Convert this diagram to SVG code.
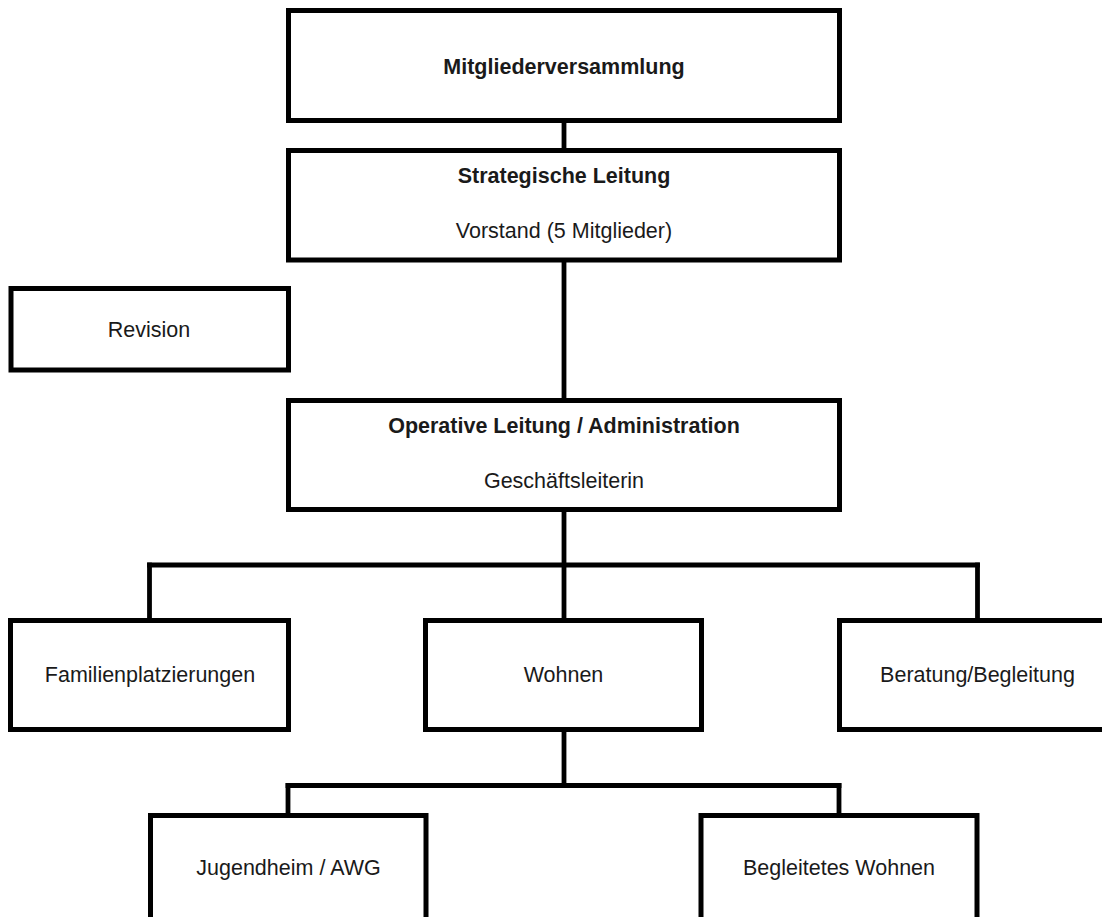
<svg xmlns="http://www.w3.org/2000/svg" width="1102" height="917" viewBox="0 0 1102 917">
<style>
.box{fill:#fff;stroke:#000;stroke-width:5}
.c{stroke:#000;stroke-width:4.8;fill:none;stroke-linecap:square}
text{font-family:"Liberation Sans",Arial,sans-serif;font-size:21.5px;fill:#1a1a1a;text-anchor:middle}
.b{font-weight:bold}
</style>
<rect width="1102" height="917" fill="#fff"/>
<g id="connectors">
<line class="c" x1="564" y1="123" x2="564" y2="148"/>
<line class="c" x1="564" y1="262" x2="564" y2="398"/>
<line class="c" x1="564" y1="512" x2="564" y2="618"/>
<line class="c" x1="149.5" y1="565" x2="977.5" y2="565"/>
<line class="c" x1="149.5" y1="565" x2="149.5" y2="618"/>
<line class="c" x1="977.5" y1="565" x2="977.5" y2="618"/>
<line class="c" x1="564" y1="732" x2="564" y2="785.5"/>
<line class="c" x1="288" y1="785.5" x2="839" y2="785.5"/>
<line class="c" x1="288" y1="785.5" x2="288" y2="813"/>
<line class="c" x1="839" y1="785.5" x2="839" y2="813"/>
</g>
<g id="mitgliederversammlung">
<rect class="box" x="288.5" y="10.5" width="551" height="110"/>
<text class="b" x="564" y="74">Mitgliederversammlung</text>
</g>
<g id="strategische-leitung">
<rect class="box" x="288.5" y="150.5" width="551" height="109.5"/>
<text class="b" x="564" y="183">Strategische Leitung</text>
<text x="564" y="238">Vorstand (5 Mitglieder)</text>
</g>
<g id="revision">
<rect class="box" x="11" y="288.5" width="277.5" height="81.5"/>
<text x="149" y="337">Revision</text>
</g>
<g id="operative-leitung">
<rect class="box" x="288.5" y="400.5" width="551" height="109"/>
<text class="b" x="564" y="433">Operative Leitung / Administration</text>
<text x="564" y="488">Geschäftsleiterin</text>
</g>
<g id="familienplatzierungen">
<rect class="box" x="10.5" y="620.5" width="278" height="109"/>
<text x="150" y="682">Familienplatzierungen</text>
</g>
<g id="wohnen">
<rect class="box" x="425.5" y="620.5" width="276" height="109"/>
<text x="563.5" y="682">Wohnen</text>
</g>
<g id="beratung-begleitung">
<rect class="box" x="839.5" y="620.5" width="277" height="109"/>
<text x="977.5" y="682">Beratung/Begleitung</text>
</g>
<g id="jugendheim-awg">
<rect class="box" x="150.5" y="815.5" width="275.5" height="140"/>
<text x="288.5" y="875">Jugendheim / AWG</text>
</g>
<g id="begleitetes-wohnen">
<rect class="box" x="701" y="815.5" width="276" height="140"/>
<text x="839" y="875">Begleitetes Wohnen</text>
</g>
</svg>
